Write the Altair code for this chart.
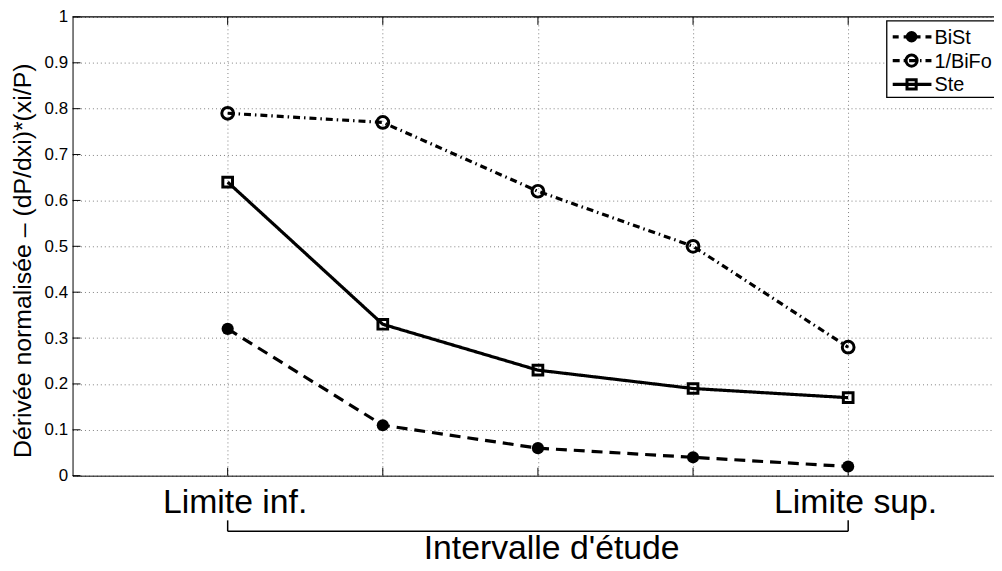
import altair as alt
import pandas as pd

# ---------------- data ----------------
x_pos = [1, 2, 3, 4, 5]
series_names = ["BiSt", "1/BiFo", "Ste"]
bist = [0.32, 0.11, 0.06, 0.04, 0.02]
bifo = [0.79, 0.77, 0.62, 0.50, 0.28]
ste = [0.64, 0.33, 0.23, 0.19, 0.17]
y_ticks = [0, 0.1, 0.2, 0.3, 0.4, 0.5, 0.6, 0.7, 0.8, 0.9, 1.0]
x_label_first = "Limite inf."
x_label_last = "Limite sup."
x_title = "Intervalle d'étude"
y_title = "Dérivée normalisée – (dP/dxi)*(xi/P)"

values = {"BiSt": bist, "1/BiFo": bifo, "Ste": ste}

# ---------------- style ----------------
FONT = "Liberation Sans"
PLOT_W = 928
PLOT_H = 462
styles = {
    "BiSt": dict(dash=[11, 7], shape="circle", filled=True, size=150),
    "1/BiFo": dict(dash=[7, 4, 1.5, 4], shape="circle", filled=False, size=140),
    "Ste": dict(dash=[1, 0], shape="square", filled=False, size=95),
}

xscale = alt.Scale(domain=[0, 5.94], nice=False, zero=False)
yscale = alt.Scale(domain=[0, 1], nice=False, zero=False)

label_expr = (
    f"datum.value == {x_pos[0]} ? '{x_label_first}' : "
    f"(datum.value == {x_pos[-1]} ? '{x_label_last}' : '')"
)
xaxis = alt.Axis(
    values=x_pos, grid=True, gridDash=[1, 3], gridColor="#808080", gridWidth=1,
    ticks=False, tickSize=0, domainColor="black", domainWidth=1,
    labelExpr=label_expr, labelFont=FONT, labelFontSize=34, labelColor="black",
    labelBaseline="alphabetic", labelPadding=37, labelOffset=7,
    labelFlush=False, labelOverlap=False, labelBound=False,
    title=x_title, titleFont=FONT, titleFontSize=34, titleFontWeight="normal",
    titleColor="black", titleX=482, titleY=83, titleAlign="center",
    titleBaseline="alphabetic", titleAnchor="start",
)
yaxis = alt.Axis(
    values=y_ticks, grid=True, gridDash=[1, 3], gridColor="#808080", gridWidth=1,
    ticks=False, tickSize=0, domainColor="black", domainWidth=1,
    format="~g", labelFont=FONT, labelFontSize=17, labelColor="black",
    labelPadding=5, labelFlush=False, labelOverlap=False, labelBound=False,
    title=y_title, titleFont=FONT, titleFontSize=25, titleFontWeight="normal",
    titleColor="black", titleAngle=270, titleX=-42, titleY=245,
    titleAlign="center", titleBaseline="alphabetic", titleAnchor="start",
)

X = lambda f: alt.X(f, type="quantitative", scale=xscale, axis=xaxis)
Y = lambda f: alt.Y(f, type="quantitative", scale=yscale, axis=yaxis)

layers = []

# inward ticks (MATLAB style) + top border
df_yt = pd.DataFrame({"v": y_ticks})
df_xt = pd.DataFrame({"v": x_pos})
one = pd.DataFrame({"a": [x_pos[0]], "b": [x_pos[-1]]})

layers.append(alt.Chart(df_yt).mark_rule(color="black", strokeWidth=1).encode(
    y=Y("v"), x=alt.value(0), x2=alt.value(8)))
layers.append(alt.Chart(df_xt).mark_rule(color="black", strokeWidth=1).encode(
    x=X("v"), y=alt.value(0), y2=alt.value(8)))
layers.append(alt.Chart(df_xt).mark_rule(color="black", strokeWidth=1).encode(
    x=X("v"), y=alt.value(PLOT_H), y2=alt.value(PLOT_H - 8)))
layers.append(alt.Chart(one).mark_rule(color="black", strokeWidth=1.2).encode(
    x=alt.value(0), x2=alt.value(PLOT_W), y=alt.value(0)))

# bracket under the axis
layers.append(alt.Chart(one).mark_rule(color="black", strokeWidth=1.5).encode(
    x=X("a"), x2="b", y=alt.value(518)))
layers.append(alt.Chart(pd.DataFrame({"v": [x_pos[0], x_pos[-1]]})).mark_rule(
    color="black", strokeWidth=1.5).encode(
    x=X("v"), y=alt.value(507), y2=alt.value(518)))

# series
for name in series_names:
    st = styles[name]
    df = pd.DataFrame({"x": x_pos, "y": values[name]})
    layers.append(alt.Chart(df).mark_line(
        color="black", strokeWidth=3.2, strokeDash=st["dash"]).encode(
        x=X("x"), y=Y("y")))
    layers.append(alt.Chart(df).mark_point(
        shape=st["shape"], filled=st["filled"], color="black", opacity=1,
        strokeWidth=3 if not st["filled"] else 1, size=st["size"]).encode(
        x=X("x"), y=Y("y")))

# legend
layers.append(alt.Chart(one).mark_rect(fill="white", stroke="black", strokeWidth=1.3).encode(
    x=alt.value(820), x2=alt.value(960), y=alt.value(4), y2=alt.value(81)))
for i, name in enumerate(series_names):
    st = styles[name]
    ly = 20 + 24 * i
    dfn = pd.DataFrame({"s": [name]})
    layers.append(alt.Chart(dfn).mark_rule(
        color="black", strokeWidth=3.2,
        strokeDash=st["dash"] if name != "BiSt" else [6, 5]).encode(
        x=alt.value(826), x2=alt.value(865), y=alt.value(ly)))
    layers.append(alt.Chart(dfn).mark_point(
        shape=st["shape"], filled=st["filled"], color="black", opacity=1,
        strokeWidth=3 if not st["filled"] else 1,
        size=st["size"] * 0.9).encode(x=alt.value(845), y=alt.value(ly)))
    layers.append(alt.Chart(dfn).mark_text(
        font=FONT, fontSize=20, color="black", align="left", baseline="middle").encode(
        x=alt.value(868), y=alt.value(ly + 1), text="s:N"))

chart = alt.layer(*layers).properties(
    width=PLOT_W, height=PLOT_H,
    autosize=alt.AutoSizeParams(type="none"),
    padding={"left": 65, "top": 7, "right": 0, "bottom": 92},
    background="white",
).configure_view(stroke=None)

chart.save("out.html", embed_options={"renderer": "svg", "actions": False})
